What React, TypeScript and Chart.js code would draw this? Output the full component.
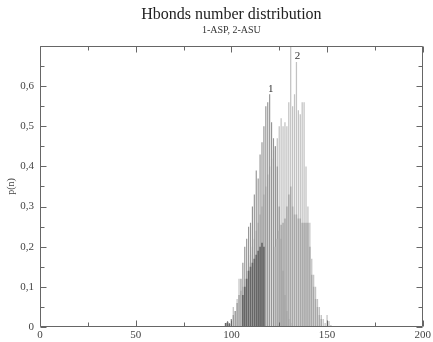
import React, { useEffect, useRef } from 'react';
import { Chart, registerables } from 'chart.js';
Chart.register(...registerables);

// number of H-bonds (n)
const hbondsN = [
  95, 96, 97, 98, 99, 100, 101, 102, 103, 104, 105, 106, 107, 108, 109, 110,
  111, 112, 113, 114, 115, 116, 117, 118, 119, 120, 121, 122, 123, 124, 125,
  126, 127, 128, 129, 130, 131, 132, 133, 134, 135, 136, 137, 138, 139, 140,
  141, 142, 143, 144, 145, 146, 147, 148, 149, 150, 151, 152, 153, 154, 155,
];

// 1 - ASP (spikes)
const aspPeak = [
  0, 0, 0.01, 0.015, 0.01, 0.02, 0.03, 0.04, 0.06, 0.08, 0.12, 0.16, 0.2, 0.22, 0.25, 0.26,
  0.3, 0.33, 0.39, 0.37, 0.43, 0.46, 0.5, 0.55, 0.56, 0.58, 0.51, 0.47, 0.45, 0.4, 0.3,
  0.22, 0.14, 0.08, 0.04, 0.02, 0.01, 0, 0, 0, 0, 0, 0, 0, 0, 0,
  0, 0, 0, 0, 0, 0, 0, 0, 0, 0, 0, 0, 0, 0, 0,
];
// 1 - ASP (dense core)
const aspBase = [
  0, 0, 0.01, 0.012, 0.008, 0, 0, 0, 0, 0, 0, 0.08, 0.1, 0.12, 0.14, 0.15,
  0.16, 0.17, 0.18, 0.19, 0.2, 0.21, 0.2, 0, 0, 0, 0, 0, 0, 0, 0,
  0, 0, 0, 0, 0, 0, 0, 0, 0, 0, 0, 0, 0, 0, 0,
  0, 0, 0, 0, 0, 0, 0, 0, 0, 0, 0, 0, 0, 0, 0,
];
// 2 - ASU (spikes)
const asuPeak = [
  0, 0, 0, 0, 0, 0.02, 0.05, 0.04, 0.07, 0.12, 0.09, 0.1, 0.12, 0.14, 0.16, 0.18,
  0.2, 0.22, 0.24, 0.26, 0.28, 0.3, 0.33, 0.35, 0.38, 0.4, 0.42, 0.44, 0.45, 0.47, 0.5,
  0.52, 0.5, 0.51, 0.5, 0.56, 0.7, 0.55, 0.58, 0.66, 0.54, 0.53, 0.56, 0.56, 0.4, 0.3,
  0.26, 0.17, 0.13, 0.1, 0.07, 0.05, 0.03, 0.02, 0.01, 0.03, 0.015, 0.005, 0, 0, 0,
];
// 2 - ASU (dense core)
const asuBase = [
  0, 0, 0, 0, 0, 0, 0, 0, 0, 0, 0, 0, 0, 0, 0, 0,
  0, 0, 0, 0, 0, 0, 0, 0, 0, 0, 0, 0, 0.2, 0.22, 0.24,
  0.255, 0.26, 0.27, 0.3, 0.33, 0.35, 0.3, 0.28, 0.28, 0.27, 0.27, 0.26, 0.26, 0.26, 0.26,
  0.2, 0.13, 0.1, 0.07, 0.05, 0.03, 0.02, 0, 0, 0, 0, 0, 0, 0, 0,
];

const peakNames = ['1', '2'];
const peakN = [120, 134];

const titleText = 'Hbonds number distribution';
const subtitleText = '1-ASP, 2-ASU';
const yTitle = 'p(n)';

const SERIF = "'Liberation Serif', 'Times New Roman', serif";

const toPoints = (vals: number[]) => hbondsN.map((n, i) => ({ x: n, y: vals[i] }));

const framePlugin = {
  id: 'frameTicks',
  afterDatasetsDraw(chart: any) {
    const { ctx, chartArea: a, scales } = chart;
    const xs = scales.x;
    const ys = scales.y;
    ctx.save();
    ctx.strokeStyle = '#666';
    ctx.lineWidth = 1;
    const L = Math.round(a.left) + 0.5;
    const R = Math.round(a.right) - 0.5;
    const T = Math.round(a.top) + 0.5;
    const B = Math.round(a.bottom) - 0.5;
    ctx.beginPath();
    ctx.rect(L, T, R - L, B - T);
    ctx.stroke();
    ctx.beginPath();
    for (let i = 0; i <= 8; i++) {
      const v = i * 25;
      const px = Math.round(xs.getPixelForValue(v)) + 0.5;
      const len = i % 2 === 0 ? 6 : 4;
      ctx.moveTo(px, B);
      ctx.lineTo(px, B - len);
      ctx.moveTo(px, T);
      ctx.lineTo(px, T + len);
    }
    for (let i = 0; i <= 14; i++) {
      const v = i * 0.05;
      const py = Math.round(ys.getPixelForValue(v)) + 0.5;
      const len = i % 2 === 0 ? 6 : 4;
      ctx.moveTo(L, py);
      ctx.lineTo(L + len, py);
      ctx.moveTo(R, py);
      ctx.lineTo(R - len, py);
    }
    ctx.stroke();
    // peak labels
    ctx.fillStyle = '#333';
    ctx.font = `11px ${SERIF}`;
    ctx.textAlign = 'center';
    ctx.textBaseline = 'bottom';
    const series = [aspPeak, asuPeak];
    peakNames.forEach((name, k) => {
      const idx = hbondsN.indexOf(peakN[k]);
      const px = xs.getPixelForValue(peakN[k]) + 1;
      const py = ys.getPixelForValue(series[k][idx]);
      ctx.fillText(name, px, py);
    });
    ctx.restore();
  },
};

export default function App() {
  const ref = useRef<HTMLCanvasElement | null>(null);
  useEffect(() => {
    if (!ref.current) return;
    const chart = new Chart(ref.current, {
      type: 'bar',
      data: {
        datasets: [
          {
            label: '2-ASU',
            data: toPoints(asuPeak),
            backgroundColor: '#c2c2c2',
            categoryPercentage: 1,
            barPercentage: 0.65,
            grouped: false,
            order: 4,
          } as any,
          {
            label: '1-ASP',
            data: toPoints(aspPeak),
            backgroundColor: '#959595',
            categoryPercentage: 1,
            barPercentage: 0.6,
            grouped: false,
            order: 3,
          },
          {
            label: '2-ASU core',
            data: toPoints(asuBase),
            backgroundColor: '#a8a8a8',
            categoryPercentage: 1,
            barPercentage: 0.75,
            grouped: false,
            order: 2,
          },
          {
            label: '1-ASP core',
            data: toPoints(aspBase),
            backgroundColor: '#666666',
            categoryPercentage: 1,
            barPercentage: 0.85,
            grouped: false,
            order: 1,
          },
        ],
      },
      options: {
        responsive: false,
        animation: false,
        layout: { padding: { top: 0, right: 9, left: 0, bottom: 0 } },
        plugins: {
          legend: { display: false },
          tooltip: { enabled: false },
          title: {
            display: true,
            text: titleText,
            fullSize: false,
            color: '#222',
            font: { family: SERIF, size: 16, weight: 'normal' },
            padding: { top: 5, bottom: 0 },
          },
          subtitle: {
            display: true,
            text: subtitleText,
            fullSize: false,
            color: '#333',
            font: { family: SERIF, size: 10, weight: 'normal' },
            padding: { top: 0, bottom: 9.8 },
          },
        },
        scales: {
          x: {
            type: 'linear',
            min: 0,
            max: 200,
            offset: false,
            grid: { display: false, drawTicks: false },
            border: { display: false },
            ticks: {
              stepSize: 50,
              padding: 2,
              color: '#444',
              font: { family: SERIF, size: 11 },
              maxRotation: 0,
            },
            afterFit: (s: any) => {
              s.height = 15;
            },
          },
          y: {
            min: 0,
            max: 0.7,
            grid: { display: false, drawTicks: false },
            border: { display: false },
            ticks: {
              stepSize: 0.1,
              padding: 6,
              color: '#444',
              font: { family: SERIF, size: 11 },
              callback: (v: any) => {
                const n = Number(v);
                if (n > 0.65) return '';
                if (n === 0) return '0';
                return n.toFixed(1).replace('.', ',');
              },
            },
            title: {
              display: true,
              text: yTitle,
              color: '#444',
              font: { family: SERIF, size: 10 },
              padding: { top: 5, bottom: 0 },
            },
            afterFit: (s: any) => {
              s.width = 40;
            },
          },
        },
      },
      plugins: [framePlugin],
    });
    return () => chart.destroy();
  }, []);
  return (
    <div style={{ position: 'absolute', left: 0, top: 0, width: 433, height: 342, background: '#fff' }}>
      <canvas ref={ref} width={433} height={342} style={{ width: 433, height: 342, display: 'block' }} />
    </div>
  );
}
